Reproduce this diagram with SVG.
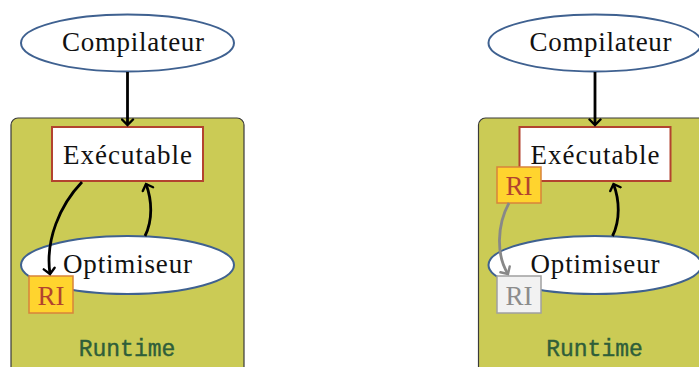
<svg xmlns="http://www.w3.org/2000/svg" width="699" height="367" viewBox="0 0 699 367">
<style>
.bg{fill:#fff}
.runtime{fill:#CBCB55;stroke:#3a3a3a;stroke-width:1.2}
.ell{fill:#fff;stroke:#3F6190;stroke-width:2}
.exe{fill:#fff;stroke:#B3432F;stroke-width:2}
.ri{fill:#FFD42E;stroke:#D9843A;stroke-width:1.5}
.rig{fill:#F2F2F2;stroke:#A0A0A0;stroke-width:1.5}
.lbl{font-family:"Liberation Serif","DejaVu Serif",serif;font-size:27px;fill:#111;text-anchor:middle}
.rit{font-family:"Liberation Serif","DejaVu Serif",serif;font-size:27px;fill:#B3432F;text-anchor:middle}
.ritg{font-family:"Liberation Serif","DejaVu Serif",serif;font-size:27px;fill:#8C8C8C;text-anchor:middle}
.rt{font-family:"Liberation Mono","DejaVu Sans Mono",monospace;font-size:23px;fill:#2F5E3A;stroke:#2F5E3A;stroke-width:0.4;text-anchor:middle}
.arr{fill:none;stroke:#000;stroke-width:2.8;marker-end:url(#hk)}
.arrg{fill:none;stroke:#888;stroke-width:2.8;marker-end:url(#hg)}
</style>
<defs>
<marker id="hk" viewBox="-7 -7 9 14" markerWidth="9" markerHeight="14" refX="0" refY="0" orient="auto" markerUnits="userSpaceOnUse">
<path d="M-5.5,-5.5 Q-1,-1 0,0 Q-1,1 -5.5,5.5" fill="none" stroke="#000" stroke-width="2.4" stroke-linecap="round"/>
</marker>
<marker id="hg" viewBox="-7 -7 9 14" markerWidth="9" markerHeight="14" refX="0" refY="0" orient="auto" markerUnits="userSpaceOnUse">
<path d="M-5.5,-5.5 Q-1,-1 0,0 Q-1,1 -5.5,5.5" fill="none" stroke="#888" stroke-width="2.4" stroke-linecap="round"/>
</marker>
</defs>
<rect class="bg" x="0" y="0" width="699" height="367"/>

<!-- Left panel -->
<g id="runtime-left">
<rect class="runtime" x="11" y="118" width="233" height="270" rx="7"/>
<text class="rt" x="127" y="356">Runtime</text>
</g>
<g id="compilateur-left">
<ellipse class="ell" cx="127.5" cy="43" rx="106.5" ry="28.5"/>
<text class="lbl" x="133" y="51" textLength="142" lengthAdjust="spacing">Compilateur</text>
</g>
<g id="executable-left">
<rect class="exe" x="52" y="127" width="151" height="54"/>
<text class="lbl" x="127.5" y="164" textLength="129" lengthAdjust="spacing">Exécutable</text>
</g>
<g id="optimiseur-left">
<ellipse class="ell" cx="127.5" cy="265" rx="106.5" ry="29"/>
<text class="lbl" x="127.5" y="273" textLength="129" lengthAdjust="spacing">Optimiseur</text>
</g>
<g id="ri-left">
<rect class="ri" x="29" y="276" width="44" height="37"/>
<text class="rit" x="51" y="305">RI</text>
</g>

<!-- Right panel -->
<g id="runtime-right">
<rect class="runtime" x="478.5" y="118" width="233" height="270" rx="7"/>
<text class="rt" x="594.5" y="356">Runtime</text>
</g>
<g id="compilateur-right">
<ellipse class="ell" cx="595" cy="43" rx="106.5" ry="28.5"/>
<text class="lbl" x="600.5" y="51" textLength="142" lengthAdjust="spacing">Compilateur</text>
</g>
<g id="executable-right">
<rect class="exe" x="519.5" y="127" width="151" height="54"/>
<text class="lbl" x="595" y="164" textLength="129" lengthAdjust="spacing">Exécutable</text>
</g>
<g id="optimiseur-right">
<ellipse class="ell" cx="595" cy="265" rx="106.5" ry="29"/>
<text class="lbl" x="595" y="273" textLength="129" lengthAdjust="spacing">Optimiseur</text>
</g>
<g id="ri-right-active">
<rect class="ri" x="497" y="167" width="44" height="36"/>
<text class="rit" x="519" y="195">RI</text>
</g>
<g id="ri-right-old">
<rect class="rig" x="497" y="276" width="44" height="37"/>
<text class="ritg" x="519" y="305">RI</text>
</g>

<g id="connectors">
<path class="arr" d="M127.5,72 L127.5,125"/>
<path class="arr" d="M82,182 C60,205 45,240 50,274"/>
<path class="arr" d="M145,236 C153,220 152,200 146,184"/>
<path class="arr" d="M595,72 L595,125"/>
<path class="arr" d="M612.5,236 C620.5,220 619.5,200 613.5,184"/>
<path class="arrg" d="M509,203 C497,225 496,255 508,274"/>
</g>
</svg>
